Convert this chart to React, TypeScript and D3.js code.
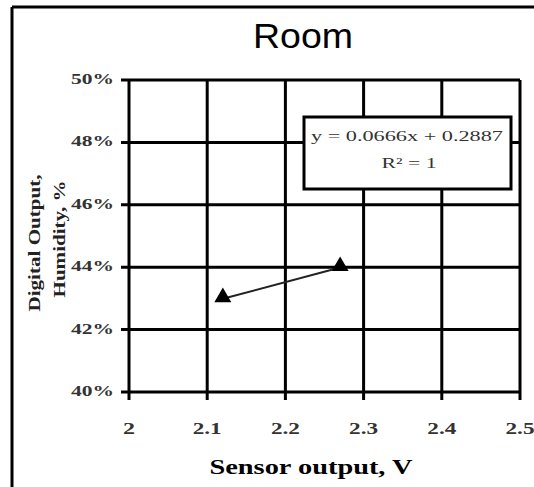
import React from "react";
import * as d3 from "d3";

const xTicks = [2, 2.1, 2.2, 2.3, 2.4, 2.5];
const yTicks = [0.4, 0.42, 0.44, 0.46, 0.48, 0.5];
const sensorV = [2.12, 2.27];
const humidity = [0.43, 0.44];
const slope = 0.0666;
const intercept = 0.2887;
const title = "Room";
const eqLines = ["y = 0.0666x + 0.2887", "R² = 1"];

export default function App() {
  const W = 534, H = 487;
  const L = 129, R = 520, T = 80, B = 392;
  const x = d3.scaleLinear().domain([2, 2.5]).range([L, R]);
  const y = d3.scaleLinear().domain([0.4, 0.5]).range([B, T]);
  const xs = d3.extent(sensorV) as [number, number];
  const line = d3.line<number>().x((d) => x(d)).y((d) => y(slope * d + intercept));
  const tri = d3.symbol().type(d3.symbolTriangle).size(125)();
  const serif = "'Liberation Serif', 'Times New Roman', serif";
  const fmtX = (t: number) => String(t);
  return (
    <svg width={W} height={H} style={{ position: "absolute", left: 0, top: 0 }}>
      <rect x={0} y={0} width={W} height={H} fill="#fff" />
      <line x1={12} y1={7} x2={12} y2={H} stroke="#000" strokeWidth={3} />
      <line x1={12} y1={7} x2={W} y2={7} stroke="#000" strokeWidth={3} />
      <text x={303} y={48} textAnchor="middle" fontFamily="'Liberation Sans', Arial, sans-serif" fontSize={35} textLength={100} lengthAdjust="spacingAndGlyphs">{title}</text>
      {yTicks.map((t) => (
        <g key={"y" + t}>
          <line x1={L - 8} x2={R} y1={y(t)} y2={y(t)} stroke="#000" strokeWidth={3} />
          <text x={114} y={y(t) + 4} textAnchor="end" fontFamily={serif} fontWeight="bold" fontSize={15} textLength={43} lengthAdjust="spacingAndGlyphs" fill="#333">{Math.round(t * 100) + "%"}</text>
        </g>
      ))}
      {xTicks.map((t) => (
        <g key={"x" + t}>
          <line x1={x(t)} x2={x(t)} y1={T} y2={B + 8} stroke="#000" strokeWidth={3} />
          <text x={x(t)} y={434} textAnchor="middle" fontFamily={serif} fontWeight="bold" fontSize={16} textLength={fmtX(t).length > 1 ? 29 : 12} lengthAdjust="spacingAndGlyphs" fill="#333">{fmtX(t)}</text>
        </g>
      ))}
      <rect x={304} y={117} width={207} height={72} fill="#fff" stroke="#000" strokeWidth={3} />
      <text x={407} y={141} textAnchor="middle" fontFamily={serif} fontSize={15} textLength={192} lengthAdjust="spacingAndGlyphs" fill="#333">{eqLines[0]}</text>
      <text x={409} y={168} textAnchor="middle" fontFamily={serif} fontSize={15} textLength={55} lengthAdjust="spacingAndGlyphs" fill="#333">{eqLines[1]}</text>
      <path d={line(xs) || ""} stroke="#222" strokeWidth={2} fill="none" />
      {sensorV.map((v, i) => (
        <path key={"p" + i} d={tri || ""} transform={`translate(${x(v)},${y(humidity[i]) - 1})`} fill="#000" />
      ))}
      <text x={311} y={474} textAnchor="middle" fontFamily={serif} fontWeight="bold" fontSize={22} textLength={203} lengthAdjust="spacingAndGlyphs">Sensor output, V</text>
      <g transform="translate(0,243) rotate(-90)">
        <text x={0} y={40} textAnchor="middle" fontFamily={serif} fontWeight="bold" fontSize={16} textLength={137} lengthAdjust="spacingAndGlyphs" fill="#222">Digital Output,</text>
        <text x={4} y={65} textAnchor="middle" fontFamily={serif} fontWeight="bold" fontSize={16} textLength={117} lengthAdjust="spacingAndGlyphs" fill="#222">Humidity, %</text>
      </g>
    </svg>
  );
}
